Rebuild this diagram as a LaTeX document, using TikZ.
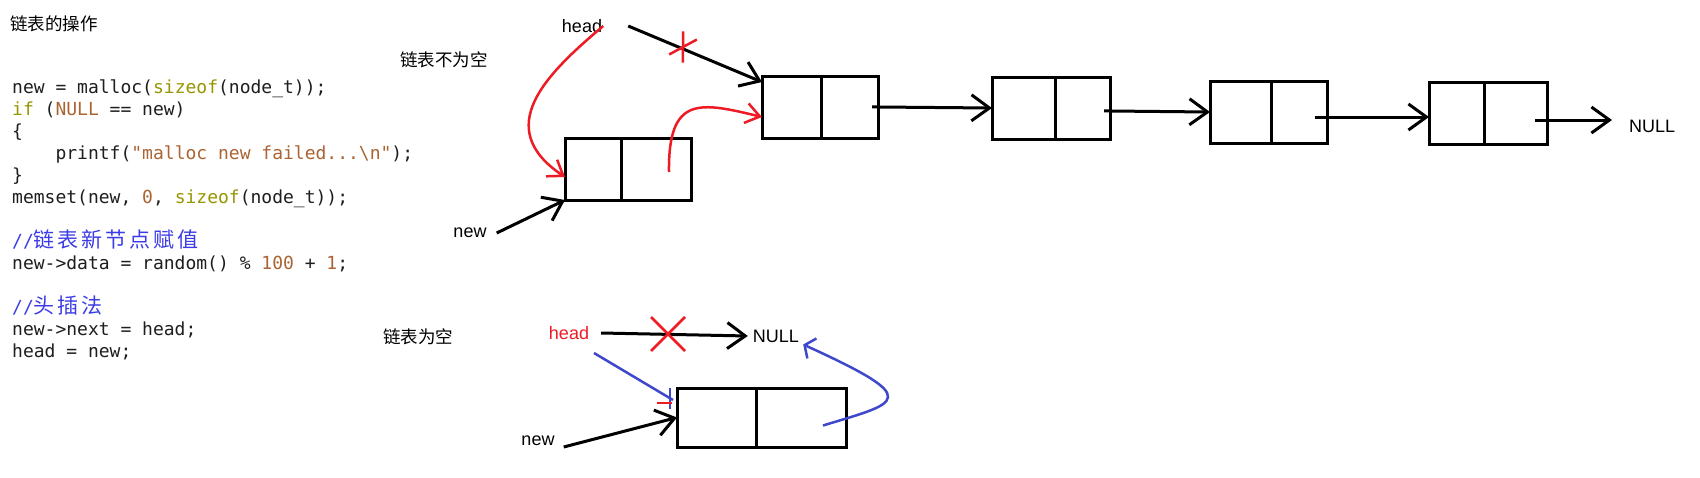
\documentclass[tikz,border=0pt]{standalone}
\usepackage{fontspec}
\setmainfont{Liberation Sans}
\setmonofont{DejaVu Sans Mono}
\newfontfamily\cjk{Noto Sans CJK SC}
\newfontfamily\cjkcode[LetterSpace=14]{Noto Sans CJK SC}
\usetikzlibrary{arrows.meta, positioning, shapes.misc}

\definecolor{pred}{RGB}{237,28,36}
\definecolor{pblue}{RGB}{63,72,204}
\definecolor{kwolive}{RGB}{150,150,0}
\definecolor{litbrown}{RGB}{170,100,50}
\definecolor{cmblue}{RGB}{60,60,230}
\definecolor{codeink}{RGB}{30,30,30}

\begin{document}
\begin{tikzpicture}[x=1pt, y=-1pt,
      cell/.style={draw, line width=3pt, minimum height=62pt, inner sep=0pt, outer sep=0pt},
      lbl/.style={font=\fontsize{18}{20}\selectfont, inner sep=2pt},
      cn/.style={font=\cjk\fontsize{17.5}{20}\selectfont, inner sep=0pt},
      code/.style={font=\ttfamily\fontsize{18}{22}\selectfont, text=codeink, align=left, inner sep=0pt},
      ptr/.style={line width=3pt, -{Straight Barb[length=18pt, width=26pt]}},
      rptr/.style={draw=pred, line width=2.5pt, -{Straight Barb[length=14pt, width=20pt]}},
      bptr/.style={draw=pblue, line width=2.5pt},
      xmark/.style={cross out, draw=pred, line width=2.5pt, inner sep=0pt, outer sep=0pt}]

    \path[fill=white, use as bounding box] (0,0) rectangle (1700,477);

    % code on the left (base = last line)
    \node[cn, anchor=west] (title) at (10,24) {链表的操作};
    \node[code, anchor=base west] (src) at (12,357) {%
      new = malloc(\textcolor{kwolive}{sizeof}(node\_t));\\
      \textcolor{kwolive}{if} (\textcolor{litbrown}{NULL} == new)\\
      \{\\
      \phantom{1234}printf(\textcolor{litbrown}{"malloc new failed...\textbackslash n"});\\
      \}\\
      memset(new, \textcolor{litbrown}{0}, \textcolor{kwolive}{sizeof}(node\_t));\\
      \strut\\
      \textcolor{cmblue}{//\smash{\cjkcode\fontsize{21}{22}\selectfont 链表新节点赋值}}\\
      new->data = random() \% \textcolor{litbrown}{100} + \textcolor{litbrown}{1};\\
      \strut\\
      \textcolor{cmblue}{//\smash{\cjkcode\fontsize{21}{22}\selectfont 头插法}}\\
      new->next = head;\\
      head = new;};

    % list not empty
    \node[cn] (nonempty) at (444,60) {链表不为空};
    \node[lbl] (headA) at (582,26) {head};
    \node[lbl] (newA)  at (470,233) {new};
    \node[lbl, anchor=west] (nullA) at (1627,126) {NULL};

    \node[cell, minimum width=56pt] (nl) at (593,169) {};
    \node[cell, minimum width=70pt, right=0pt of nl] (nr) {};
    \node[cell, minimum width=59pt] (b1l) at (791.5,107) {};
    \node[cell, minimum width=57pt, right=0pt of b1l] (b1r) {};
    \node[cell, minimum width=63pt] (b2l) at (1023.5,108) {};
    \node[cell, minimum width=55pt, right=0pt of b2l] (b2r) {};
    \node[cell, minimum width=61pt] (b3l) at (1240.5,112) {};
    \node[cell, minimum width=56pt, right=0pt of b3l] (b3r) {};
    \node[cell, minimum width=55pt] (b4l) at (1456.5,113) {};
    \node[cell, minimum width=63pt, right=0pt of b4l] (b4r) {};

    \draw[ptr, shorten <=-6pt] (b1r.east) -- (b2l.west);
    \draw[ptr, shorten <=-6pt] ([yshift=-3pt]b2r.east) -- (b3l.west);
    \draw[ptr, shorten <=-12pt] ([yshift=-5pt]b3r.east) -- ([yshift=-4pt]b4l.west);
    \draw[ptr, shorten <=-12pt] ([yshift=-7pt]b4r.east) -- ([xshift=-15pt, yshift=6pt]nullA.west);

    % old head link is cut
    \draw[ptr] ([xshift=24pt]headA.east) -- ([yshift=-6pt]b1l.north west);
    \node[xmark, minimum width=27pt, minimum height=16pt, rotate=59] (cutA) at (683,47) {};

    \draw[ptr] ([xshift=8pt]newA.east) -- (nl.south west);
    \draw[rptr] ([xshift=-1pt]headA.east) .. controls (545,75) and (492,128) .. ([yshift=-8pt]nl.west);
    \draw[rptr] ([xshift=13pt, yshift=-3pt]nr.center) .. controls (668,95) and (700,102) .. ([yshift=-10pt]b1l.west);

    % list empty
    \node[cn] (empty) at (418,337) {链表为空};
    \node[lbl, text=pred] (headB) at (569,333) {head};
    \node[lbl] (newB)  at (538,441) {new};
    \node[lbl] (nullB) at (776,336) {NULL};

    \node[cell, minimum width=79pt, minimum height=59pt] (el) at (716.5,417.5) {};
    \node[cell, minimum width=90pt, minimum height=59pt, right=0pt of el] (er) {};

    \draw[ptr] ([xshift=10pt]headB.east) -- ([xshift=-3pt]nullB.west);
    \node[xmark, minimum size=34pt] (cutB) at (668,334) {};

    \draw[bptr] ([xshift=25pt, yshift=-20pt]headB.center) -- ([xshift=-4pt, yshift=-12pt]el.north west);
    \draw[pblue, line width=2.5pt] ([xshift=-7pt]el.north west) -- ++(0,21);
    \draw[pred, line width=2.5pt] ([xshift=-20pt, yshift=-15pt]el.north west) -- ++(15,0);

    \draw[ptr] ([xshift=7pt, yshift=-6pt]newB.east) -- (el.west);
    \draw[bptr, -{Straight Barb[length=8pt, width=22pt]}] ([xshift=22pt, yshift=-8pt]er.center)
        .. controls (900,402) and (925,400) .. ([xshift=2pt]nullB.south east);

    \end{tikzpicture}
\end{document}
